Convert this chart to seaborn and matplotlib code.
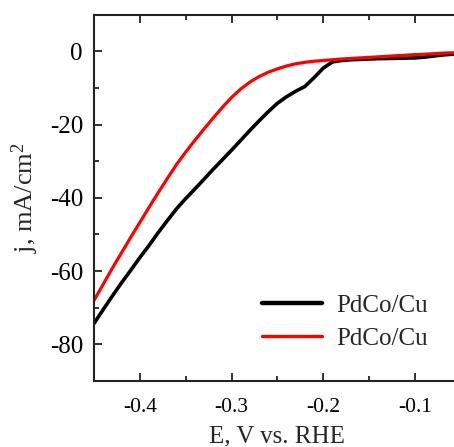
import matplotlib
matplotlib.use("Agg")
import matplotlib.pyplot as plt
from matplotlib.ticker import MultipleLocator
import seaborn as sns
import pandas as pd

# ---- data ----
potential = [-0.45, -0.44, -0.43, -0.42, -0.41, -0.40, -0.39, -0.38, -0.37, -0.36,
             -0.35, -0.34, -0.33, -0.32, -0.31, -0.30, -0.29, -0.28, -0.27, -0.26,
             -0.25, -0.24, -0.23, -0.22, -0.21, -0.20, -0.19, -0.18, -0.17, -0.16,
             -0.15, -0.14, -0.13, -0.12, -0.11, -0.10, -0.09, -0.08, -0.07, -0.06,
             -0.05]
j_black = [-74.3, -70.5, -66.8, -63.2, -59.8, -56.3, -53.0, -49.5, -46.2, -43.0,
           -40.2, -37.6, -34.9, -32.2, -29.6, -27.0, -24.3, -21.6, -19.0, -16.5,
           -14.2, -12.4, -10.9, -9.6, -7.2, -4.6, -2.9, -2.5, -2.3, -2.2,
           -2.1, -2.0, -1.95, -1.9, -1.85, -1.8, -1.6, -1.3, -1.0, -0.8,
           -0.6]
j_red = [-68.0, -63.6, -59.2, -55.0, -50.8, -46.7, -42.6, -38.6, -34.7, -30.9,
         -27.5, -24.3, -21.2, -18.2, -15.3, -12.6, -10.3, -8.4, -6.9, -5.7,
         -4.8, -4.0, -3.4, -3.0, -2.7, -2.5, -2.3, -2.1, -1.95, -1.8,
         -1.65, -1.5, -1.35, -1.2, -1.05, -0.9, -0.8, -0.65, -0.5, -0.4,
         -0.3]
series_labels = ["PdCo/Cu", "PdCo/Cu"]
x_ticks = [-0.4, -0.3, -0.2, -0.1]
y_ticks = [0, -20, -40, -60, -80]

sns.set_theme(style="ticks")
plt.rcParams["font.family"] = ["Liberation Serif", "DejaVu Serif"]
plt.rcParams["mathtext.fontset"] = "custom"
plt.rcParams["mathtext.rm"] = "Liberation Serif"
plt.rcParams["mathtext.it"] = "Liberation Serif:italic"

W, H = 454, 447
fig = plt.figure(figsize=(W / 100, H / 100), dpi=100)
ax = fig.add_axes([94 / W, 66 / H, (460.7 - 94) / W, (381 - 14.7) / H])

df_b = pd.DataFrame({"E": potential, "j": j_black})
df_r = pd.DataFrame({"E": potential, "j": j_red})
sns.lineplot(data=df_b, x="E", y="j", ax=ax, color="black", linewidth=2.6,
             label=series_labels[0], sort=False)
sns.lineplot(data=df_r, x="E", y="j", ax=ax, color="#ff0000", linewidth=2.3,
             label=series_labels[1], sort=False)

ax.set_xlim(-0.45, -0.05)
ax.set_ylim(-90, 10)
ax.set_xticks(x_ticks)
ax.set_xticklabels([f"{t:.1f}" for t in x_ticks], fontsize=15.5)
ax.set_yticks(y_ticks)
ax.set_yticklabels([str(t) for t in y_ticks], fontsize=18)
ax.xaxis.set_minor_locator(MultipleLocator(0.05))
ax.yaxis.set_minor_locator(MultipleLocator(10))

for s in ["left", "bottom", "top"]:
    ax.spines[s].set_visible(True)
    ax.spines[s].set_linewidth(1.5)
    ax.spines[s].set_color("#222222")
ax.spines["right"].set_visible(False)

ax.tick_params(which="both", direction="in", top=True, right=False,
               color="#222222", width=1.3, colors="black")
ax.tick_params(which="major", length=5.5, pad=8)
ax.tick_params(axis="x", which="major", pad=12)
ax.tick_params(which="minor", length=3.5)

ax.set_xlabel("E, V vs. RHE", fontsize=18, labelpad=6)
ax.set_ylabel("j, mA/cm$^2$", fontsize=19, labelpad=6)

leg = ax.legend(loc="center left", bbox_to_anchor=(262 / W, 125 / H),
                bbox_transform=fig.transFigure, frameon=False, fontsize=18,
                handlelength=2.4, handletextpad=0.55, labelspacing=0.42,
                borderpad=0, borderaxespad=0)
leg.get_lines()[0].set_linewidth(3.2)
leg.get_lines()[1].set_linewidth(2.4)

fig.savefig("out.png", dpi=100)
